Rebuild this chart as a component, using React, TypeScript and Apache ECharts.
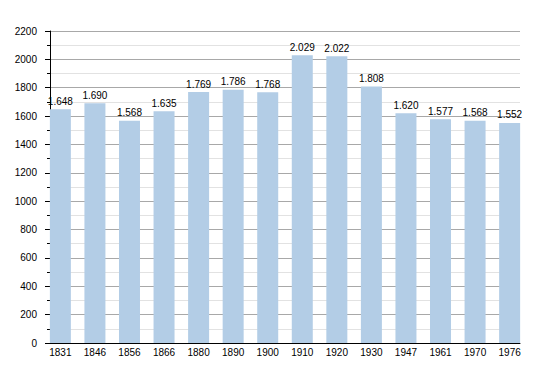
import React, { useEffect, useRef } from "react";
import * as echarts from "echarts";

const years = ["1831", "1846", "1856", "1866", "1880", "1890", "1900", "1910", "1920", "1930", "1947", "1961", "1970", "1976"];
const population = [1648, 1690, 1568, 1635, 1769, 1786, 1768, 2029, 2022, 1808, 1620, 1577, 1568, 1552];
const yTicks = { min: 0, max: 2200, interval: 200 };

const fmt = (v: number) => {
  const s = String(Math.round(v));
  return s.length > 3 ? s.slice(0, s.length - 3) + "." + s.slice(-3) : s;
};

export default function App() {
  const ref = useRef<HTMLDivElement>(null);
  useEffect(() => {
    if (!ref.current) return;
    const chart = echarts.init(ref.current, undefined, { renderer: "svg" });
    const font = "'Liberation Sans', Arial, Helvetica, sans-serif";
    chart.setOption({
      animation: false,
      backgroundColor: "#ffffff",
      textStyle: { fontFamily: font },
      grid: { left: 50, right: 30, top: 31, bottom: 30, containLabel: false },
      xAxis: {
        type: "value",
        min: -0.3,
        max: years.length - 1 + 0.3,
        axisLine: { show: true, onZero: false, lineStyle: { color: "#000", width: 1 } },
        axisTick: { show: false },
        minorTick: { show: false },
        splitLine: { show: false },
        axisLabel: {
          customValues: years.map((_, i) => i),
          formatter: (v: number) => years[Math.round(v)] ?? "",
          color: "#000",
          fontSize: 10,
          fontFamily: font,
          margin: 4,
        },
      },
      yAxis: {
        type: "value",
        min: yTicks.min,
        max: yTicks.max,
        interval: yTicks.interval,
        axisLine: { show: true, onZero: false, lineStyle: { color: "#000", width: 1 } },
        axisTick: { show: true, length: 5, lineStyle: { color: "#000" } },
        minorTick: { show: true, splitNumber: 2, length: 3, lineStyle: { color: "#000" } },
        splitLine: { show: true, lineStyle: { color: "#a8a8a8", width: 1 } },
        minorSplitLine: { show: true, lineStyle: { color: "#e2e2e2", width: 1 } },
        axisLabel: {
          color: "#000",
          fontSize: 10,
          fontFamily: font,
          margin: 13,
          formatter: (v: number) => String(v),
        },
      },
      series: [
        {
          type: "bar",
          barWidth: 21,
          data: population.map((v, i) => [i, v]),
          itemStyle: { color: "#b3cde6" },
          label: {
            show: true,
            position: "top",
            distance: 3,
            color: "#000",
            fontSize: 10,
            fontFamily: font,
            formatter: (p: any) => fmt(p.value[1]),
          },
        },
      ],
    });
    return () => chart.dispose();
  }, []);
  return <div ref={ref} style={{ position: "absolute", left: 0, top: 0, width: 550, height: 373 }} />;
}
